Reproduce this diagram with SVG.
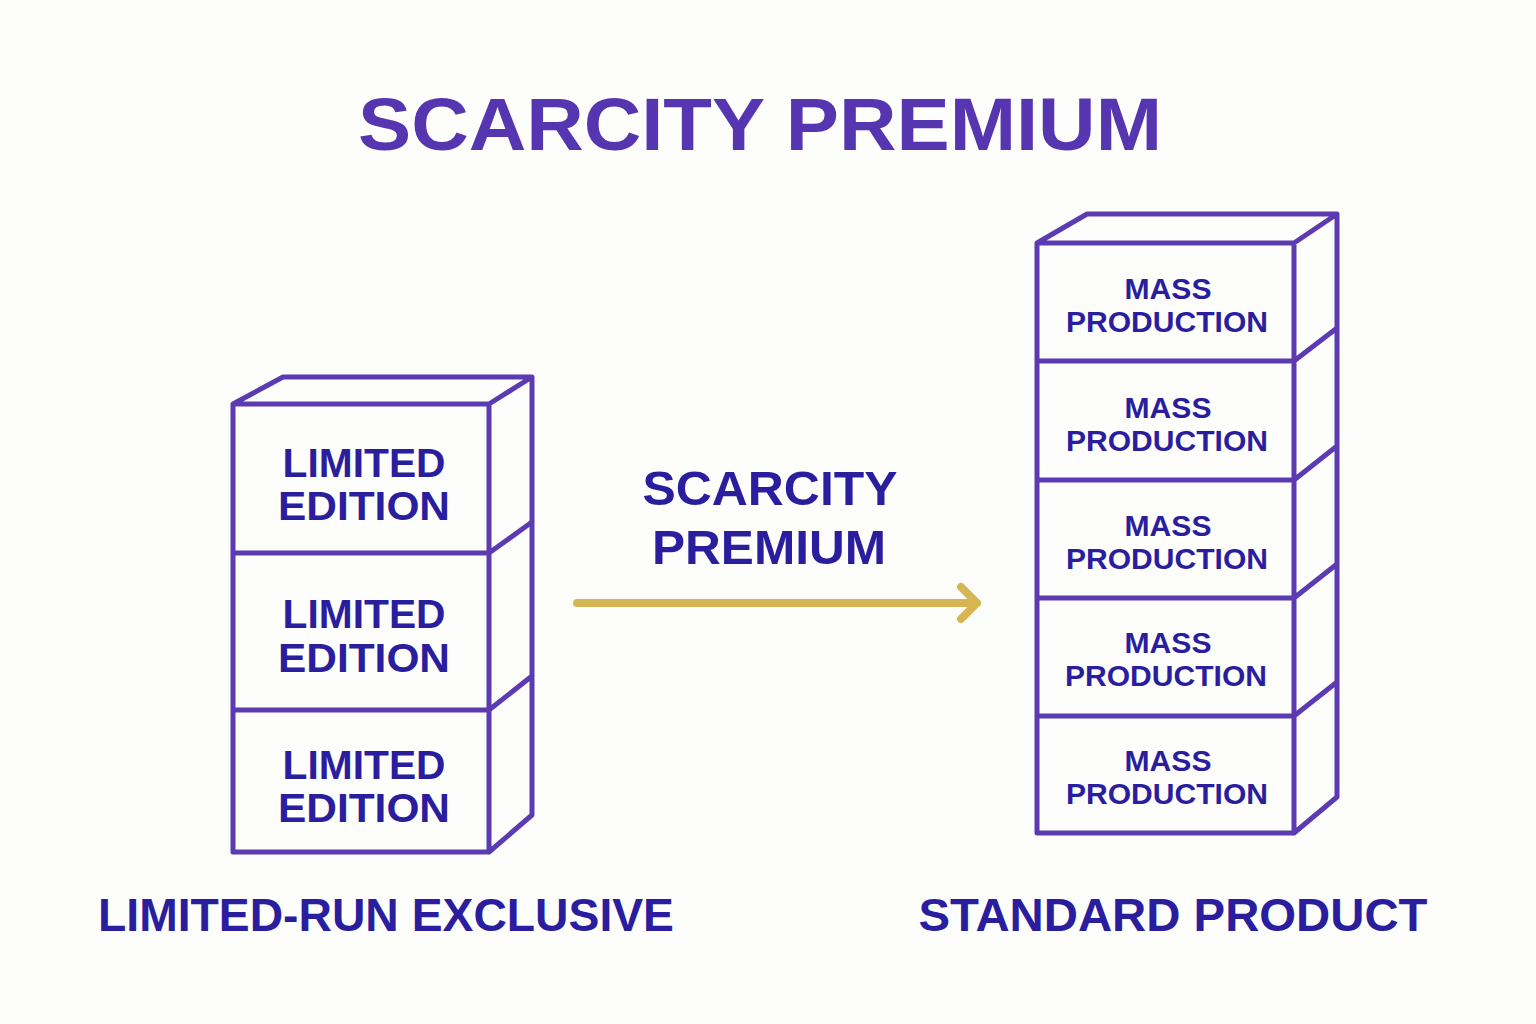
<svg xmlns="http://www.w3.org/2000/svg" width="1536" height="1024" viewBox="0 0 1536 1024">
<style>
.box{fill:none;stroke:#5B3AB2;stroke-width:5;stroke-linejoin:round;stroke-linecap:round}
.t{font-family:"Liberation Sans","Arial",sans-serif;font-weight:700;fill:#2B1E9E;text-anchor:middle}
.title{font-family:"Liberation Sans","Arial",sans-serif;font-weight:700;fill:#5535B0;text-anchor:middle}
.arrow{fill:none;stroke:#D8B553;stroke-width:8;stroke-linecap:round;stroke-linejoin:round}
</style>
<rect width="1536" height="1024" fill="#FDFDFC"/>
<g id="title"><text class="title" x="760" y="150" font-size="75" textLength="804" lengthAdjust="spacingAndGlyphs">SCARCITY PREMIUM</text></g>
<g id="limited-stack">
<path class="box" d="M233 404 L283 377 L532 377 L489 404 Z M233 404 H489 V852 H233 Z M489 852 L532 815 V377 M233 553 H489 L532 522 M233 710 H489 L532 676"/>
<text class="t" x="364" y="477" font-size="40" textLength="163" lengthAdjust="spacingAndGlyphs">LIMITED</text>
<text class="t" x="364" y="520" font-size="40" textLength="172" lengthAdjust="spacingAndGlyphs">EDITION</text>
<text class="t" x="364" y="628" font-size="40" textLength="163" lengthAdjust="spacingAndGlyphs">LIMITED</text>
<text class="t" x="364" y="672" font-size="40" textLength="172" lengthAdjust="spacingAndGlyphs">EDITION</text>
<text class="t" x="364" y="779" font-size="40" textLength="163" lengthAdjust="spacingAndGlyphs">LIMITED</text>
<text class="t" x="364" y="822" font-size="40" textLength="172" lengthAdjust="spacingAndGlyphs">EDITION</text>
</g>
<g id="mass-stack">
<path class="box" d="M1037 243 L1087 214 L1337 214 L1294 243 Z M1037 243 H1294 V833 H1037 Z M1294 833 L1337 797 V214 M1037 361 H1294 L1337 328 M1037 480 H1294 L1337 446 M1037 598 H1294 L1337 564 M1037 716 H1294 L1337 682"/>
<text class="t" x="1168" y="299" font-size="29" textLength="87" lengthAdjust="spacingAndGlyphs">MASS</text>
<text class="t" x="1167" y="332" font-size="29" textLength="202" lengthAdjust="spacingAndGlyphs">PRODUCTION</text>
<text class="t" x="1168" y="418" font-size="29" textLength="87" lengthAdjust="spacingAndGlyphs">MASS</text>
<text class="t" x="1167" y="451" font-size="29" textLength="202" lengthAdjust="spacingAndGlyphs">PRODUCTION</text>
<text class="t" x="1168" y="536" font-size="29" textLength="87" lengthAdjust="spacingAndGlyphs">MASS</text>
<text class="t" x="1167" y="569" font-size="29" textLength="202" lengthAdjust="spacingAndGlyphs">PRODUCTION</text>
<text class="t" x="1168" y="653" font-size="29" textLength="87" lengthAdjust="spacingAndGlyphs">MASS</text>
<text class="t" x="1166" y="686" font-size="29" textLength="202" lengthAdjust="spacingAndGlyphs">PRODUCTION</text>
<text class="t" x="1168" y="771" font-size="29" textLength="87" lengthAdjust="spacingAndGlyphs">MASS</text>
<text class="t" x="1167" y="804" font-size="29" textLength="202" lengthAdjust="spacingAndGlyphs">PRODUCTION</text>
</g>
<g id="connectors">
<path class="arrow" d="M577 603 H977 M961 587 L977 603 L961 619"/>
</g>
<g id="arrow-label">
<text class="t" x="770" y="505" font-size="49" textLength="255" lengthAdjust="spacingAndGlyphs">SCARCITY</text>
<text class="t" x="769" y="564" font-size="49" textLength="234" lengthAdjust="spacingAndGlyphs">PREMIUM</text>
</g>
<g id="captions">
<text class="t" x="386" y="931" font-size="47" textLength="576" lengthAdjust="spacingAndGlyphs">LIMITED-RUN EXCLUSIVE</text>
<text class="t" x="1173" y="931" font-size="47" textLength="509" lengthAdjust="spacingAndGlyphs">STANDARD PRODUCT</text>
</g>
</svg>
